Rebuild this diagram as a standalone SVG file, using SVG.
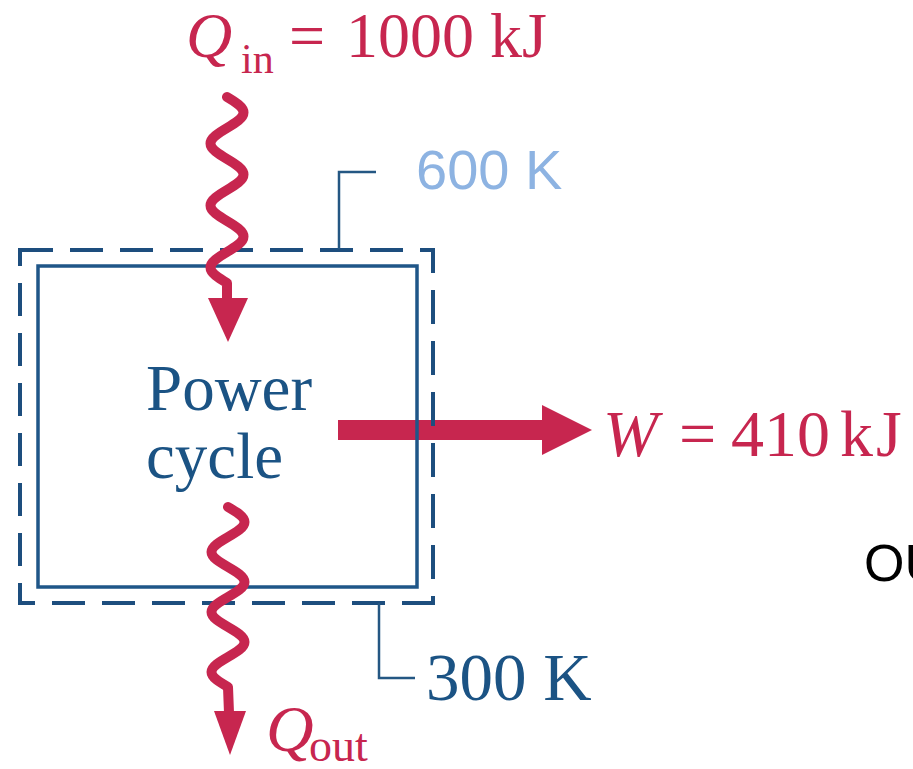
<svg xmlns="http://www.w3.org/2000/svg" width="913" height="769" viewBox="0 0 913 769">
<style>
.serif{font-family:"Liberation Serif","Times New Roman",serif}
.red{fill:#c7264f}
.blue{fill:#1b5384}
.wave{fill:none;stroke:#c7264f;stroke-width:10;stroke-linecap:round;stroke-linejoin:round}
.dash{fill:none;stroke:#1d4e7e;stroke-width:4;stroke-linecap:butt}
.leader{fill:none;stroke:#245783;stroke-width:2.5}
</style>
<rect width="913" height="769" fill="#ffffff"/>
<g id="connectors">
  <g id="work-arrow">
    <rect x="338" y="420" width="205" height="20" fill="#c7264f"/>
    <polygon points="542,405 592,430 542,455" fill="#c7264f"/>
  </g>
</g>
<g id="boundary">
  <line class="dash" x1="18" y1="250" x2="435" y2="250" stroke-dasharray="33 17" stroke-dashoffset="48"/>
  <line class="dash" x1="20" y1="248" x2="20" y2="605" stroke-dasharray="33 17" stroke-dashoffset="15"/>
  <line class="dash" x1="433" y1="248" x2="433" y2="605" stroke-dasharray="34 17" stroke-dashoffset="9"/>
  <line class="dash" x1="435" y1="603" x2="18" y2="603" stroke-dasharray="33 17" stroke-dashoffset="0"/>
</g>
<g id="power-cycle">
  <rect x="38" y="266" width="379" height="321" fill="none" stroke="#1f5688" stroke-width="3.5"/>
  <text class="serif blue" font-size="65"><tspan x="146" y="410">Power</tspan><tspan x="146" y="478">cycle</tspan></text>
</g>
<g id="heat-in">
  <path class="wave" d="M227 97 C235.5 102.06 243.5 106.89 243.5 112.5 C243.5 118.11 235.5 122.94 227 128 C218.5 133.06 210.5 137.89 210.5 143.5 C210.5 149.11 218.5 153.94 227 159 C235.5 164.06 243.5 168.89 243.5 174.5 C243.5 180.11 235.5 184.94 227 190 C218.5 195.06 210.5 199.89 210.5 205.5 C210.5 211.11 218.5 215.94 227 221 C235.5 226.06 243.5 230.89 243.5 236.5 C243.5 242.11 235.5 246.94 227 252 C218.5 257.06 210.5 261.89 210.5 267.5 C210.5 273.11 218.5 277.94 227 283 L227 300"/>
  <polygon points="208,298 248,298 228,342" fill="#c7264f"/>
  <text class="serif red" font-size="64" y="57"><tspan x="186" font-style="italic">Q</tspan><tspan x="241" y="73" font-size="42">in </tspan><tspan x="289" y="57">= </tspan><tspan x="346" y="57">1000 kJ</tspan></text>
</g>
<g id="heat-out">
  <path class="wave" d="M228 507 C236.5 511.9 244.5 516.6 244.5 522 C244.5 527.4 236.5 532.1 228 537 C219.5 541.9 211.5 546.6 211.5 552 C211.5 557.4 219.5 562.1 228 567 C236.5 571.9 244.5 576.6 244.5 582 C244.5 587.4 236.5 592.1 228 597 C219.5 601.9 211.5 606.6 211.5 612 C211.5 617.4 219.5 622.1 228 627 C236.5 631.9 244.5 636.6 244.5 642 C244.5 647.4 236.5 652.1 228 657 C219.5 661.9 211.5 666.6 211.5 672 C211.5 677.4 219.5 682.1 228 687 L229 713"/>
  <polygon points="214,711 246,711 230,755" fill="#c7264f"/>
  <text class="serif red" font-size="66" y="751"><tspan x="266" font-style="italic">Q</tspan><tspan x="309" y="761" font-size="46">out</tspan></text>
</g>
<g id="work-label">
  <text class="serif red" font-size="66" y="456"><tspan x="603" font-style="italic">W </tspan><tspan x="679">= </tspan><tspan x="731">410</tspan><tspan x="840" letter-spacing="3">kJ</tspan></text>
</g>
<g id="label-600K">
  <path class="leader" d="M339 249 V172 H376"/>
  <text x="416" y="189" font-family="Liberation Sans, Arial, sans-serif" font-size="56" fill="#8db3e2">600 K</text>
</g>
<g id="label-300K">
  <path class="leader" d="M379 603 V678 H415"/>
  <text class="serif blue" x="426" y="700" font-size="67">300 K</text>
</g>
<text x="864" y="581" font-family="Liberation Sans, Arial, sans-serif" font-size="52" fill="#000000">OU</text>
</svg>
